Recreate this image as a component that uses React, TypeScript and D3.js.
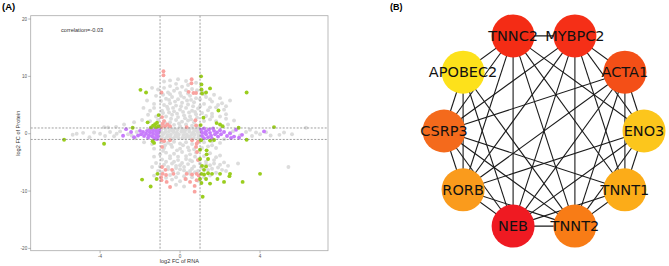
import React from "react";
import * as d3 from "d3";

// ---------- Panel A data (log2 FC RNA, log2 FC Protein) ----------
const grayPts: [number, number][] = [
  // central dense band
  [-0.92,0.82],[-0.72,0.78],[-0.51,0.85],[-0.3,0.8],[-0.12,0.76],[0.1,0.84],[0.31,0.79],[0.49,0.83],[0.7,0.77],[0.9,0.81],
  [-0.95,0.32],[-0.74,0.28],[-0.56,0.35],[-0.34,0.3],[-0.16,0.27],[0.06,0.33],[0.24,0.29],[0.46,0.34],[0.66,0.28],[0.86,0.31],
  [-0.86,-0.18],[-0.64,-0.22],[-0.46,-0.16],[-0.24,-0.21],[-0.06,-0.17],[0.16,-0.23],[0.34,-0.18],[0.56,-0.2],[0.74,-0.16],[0.94,-0.22],
  [-0.9,-0.68],[-0.71,-0.73],[-0.49,-0.66],[-0.31,-0.72],[-0.09,-0.69],[0.11,-0.74],[0.29,-0.67],[0.51,-0.71],[0.69,-0.7],[0.91,-0.66],
  [-0.82,0.05],[-0.4,0.55],[0.2,0.58],[0.62,0.05],[-0.2,-0.45],[0.42,-0.48],[-0.62,-0.45],[0.82,0.55],
  // upper cloud
  [-0.9,1.5],[-0.6,1.4],[-0.3,1.55],[0.0,1.3],[0.3,1.6],[0.6,1.4],[0.9,1.3],
  [-0.8,2.2],[-0.5,2.0],[-0.2,2.4],[0.1,2.1],[0.4,2.3],[0.7,2.0],[1.2,2.2],[1.5,2.5],[1.8,2.2],
  [-0.7,3.0],[-0.4,3.3],[-0.1,2.9],[0.2,3.2],[0.5,3.0],[0.8,3.4],[1.3,3.1],[1.6,3.5],[2.0,3.0],[2.3,3.4],
  [-0.9,4.0],[-0.6,4.3],[-0.3,3.9],[0.0,4.2],[0.3,4.5],[0.6,4.0],[0.9,4.4],[1.4,4.1],[1.8,4.6],[2.2,4.2],
  [-0.8,5.0],[-0.5,5.3],[-0.2,4.9],[0.1,5.4],[0.4,5.1],[0.7,5.5],[1.2,5.2],[1.6,5.6],[2.1,5.3],[2.5,5.8],
  [-0.7,6.1],[-0.4,6.4],[-0.1,6.0],[0.2,6.3],[0.5,6.6],[0.8,6.2],[1.3,6.4],[1.7,6.8],[2.0,6.2],
  [-0.6,7.2],[-0.3,7.5],[0.0,7.1],[0.3,7.6],[0.6,7.8],[1.1,7.4],[1.5,6.0],
  [-0.5,8.3],[-0.2,8.7],[0.1,8.2],[0.4,8.5],[0.8,8.9],[-0.8,8.0],
  [-0.5,9.3],[-0.1,9.5],[0.3,9.2],[-0.8,9.1],
  [-0.75,1.9],[-0.45,2.6],[-0.05,1.8],[0.25,2.7],[0.55,2.5],[0.85,2.8],[-0.85,3.6],[-0.55,3.7],[-0.15,3.5],[0.15,3.8],
  [0.45,3.7],[0.75,3.8],[1.1,3.6],[1.0,4.8],[1.5,4.6],[-0.65,4.7],[-0.35,4.5],[0.05,4.8],[0.35,5.8],[0.65,4.8],
  [-0.95,5.7],[-0.55,5.9],[-0.25,5.6],[0.05,6.6],[0.55,5.9],[1.0,6.0],[1.2,6.9],[-0.85,6.8],[-0.5,6.9],[0.4,7.0],
  [0.85,7.6],[-0.15,7.9],[1.9,5.0],[2.3,4.8],[1.6,3.0],[-1.3,4.5],[-1.6,3.3],[-1.1,2.4],
  [-1.2,3.0],[-1.5,4.0],[-1.83,4.5],[-1.3,5.2],[-1.65,5.8],[-1.2,6.6],[-1.4,8.0],[-1.1,7.7],[-1.9,2.4],[-2.3,2.0],[-1.5,2.2],[-2.8,1.6],[-3.2,1.2],[-3.8,1.15],[-3.6,1.1],
  [2.4,1.6],[2.7,2.3],[2.3,2.6],
  // lower cloud
  [-0.9,-1.5],[-0.6,-1.6],[-0.3,-1.4],[0.0,-1.7],[0.3,-1.5],[0.6,-1.8],[1.2,-1.5],[1.6,-1.3],[2.0,-1.6],[-1.4,-1.8],[-1.8,-1.5],
  [-0.8,-2.5],[-0.4,-2.3],[0.0,-2.6],[0.4,-2.4],[0.7,-2.7],[1.4,-2.2],[1.8,-2.5],[-1.3,-2.6],
  [-1.0,-3.6],[-0.7,-3.3],[-0.3,-3.5],[0.1,-3.2],[0.5,-3.6],[0.8,-3.3],[1.5,-3.4],[2.0,-3.8],[-1.3,-4.0],
  [-0.9,-4.5],[-0.5,-4.3],[-0.1,-4.6],[0.3,-4.4],[0.6,-4.8],[0.9,-4.5],[1.3,-4.9],[1.7,-4.6],[2.2,-5.0],[-1.2,-5.1],
  [-0.8,-5.4],[-0.4,-5.2],[0.0,-5.5],[0.4,-5.3],[0.7,-5.7],[1.5,-5.5],[1.9,-5.9],[2.4,-5.6],[-1.4,-5.8],
  [-0.6,-6.2],[-0.2,-6.0],[0.2,-6.4],[0.6,-6.1],[0.9,-6.5],[1.4,-6.3],[1.8,-6.8],[-1.1,-6.5],
  [-0.5,-7.2],[-0.1,-6.9],[0.2,-7.4],[0.5,-7.0],[1.2,-7.6],[-1.3,-7.3],
  [-0.4,-8.0],[0.0,-8.3],[0.3,-7.9],[0.9,-8.2],
  [-0.2,-8.9],[0.2,-9.2],[2.9,-5.2],[5.42,-5.8],
  [-0.75,-2.0],[-0.45,-1.9],[0.15,-2.0],[0.45,-2.9],[-0.15,-2.9],[1.1,-2.5],[1.6,-2.0],[-0.85,-3.0],[-0.5,-3.9],[-0.1,-4.0],
  [0.3,-3.9],[0.75,-4.0],[1.2,-3.9],[1.8,-4.1],[-0.7,-4.9],[-0.3,-4.9],[0.1,-5.1],[0.5,-4.6],[1.0,-5.2],[1.3,-5.4],
  [1.7,-5.2],[2.0,-5.4],[-1.0,-5.7],[-0.6,-5.8],[-0.2,-5.6],[0.2,-5.8],[0.5,-6.5],[1.1,-6.0],[1.6,-6.1],[2.1,-6.3],
  [-0.9,-6.7],[-0.35,-6.6],[0.0,-6.2],[0.35,-6.8],[0.75,-6.7],[1.5,-7.3],[-0.2,-7.6],[0.6,-7.6],[-0.7,-7.7],[2.3,-6.5],
  // horizontal spread
  [-5.37,-0.17],[-5.17,0.0],[-4.85,0.15],[-4.53,-0.6],[-4.3,0.2],[-4.0,0.0],[-3.75,-0.4],[-3.5,0.3],[-3.17,0.0],[-3.3,-0.45],[-3.0,0.4],
  [-2.42,-0.3],[-2.17,0.3],[-2.6,-0.1],[-2.25,-0.8],
  [2.5,0.0],[2.65,0.45],[3.0,-0.3],[3.3,0.3],[3.6,-0.4],[3.8,0.2],[4.0,-0.1],[4.3,0.25],[4.53,-0.3],[4.97,-0.2],[5.2,0.2],[5.6,-0.1],[6.3,1.05],[3.5,0.7],[2.2,-0.95]
];

const pinkPts: [number, number][] = [
  [-0.83,10.9],[-0.83,10.2],[-0.93,7.2],[0.58,9.5],[0.43,7.3],[0.67,7.1],[0.8,7.1],[0.57,8.8],
  [-0.87,1.75],[-0.75,1.3],[-0.63,1.6],[-0.93,1.15],[-0.5,1.3],[-0.8,2.2],[0.33,1.15],[0.8,1.45],[0.77,2.35],[-0.9,2.9],
  [-0.93,-1.15],[-0.8,-1.3],[-0.5,-1.15],[0.6,-1.15],[0.83,-1.75],[0.8,-2.3],[0.9,-1.4],[-0.9,-2.3],
  [-0.9,-5.8],[-0.73,-6.3],[-0.4,-6.3],[-0.87,-7.0],[-0.7,-7.2],[-0.33,-7.0],[-0.93,-8.1],[-0.67,-8.4],[-0.5,-9.3],[-0.95,-7.6],
  [0.33,-7.0],[0.6,-7.1],[0.83,-7.0],[0.93,-7.3],[0.27,-7.9],[0.5,-8.4],[0.73,-9.1],[0.73,-10.1],[0.83,-8.1],[0.9,-4.6],[0.85,-3.2]
];

const purplePts: [number, number][] = [
  [-1.05,0.6],[-1.1,0.1],[-1.1,-0.5],[-1.2,0.85],[-1.2,0.35],[-1.2,-0.2],[-1.25,-0.75],[-1.35,0.55],[-1.35,0.0],[-1.4,-0.45],
  [-1.5,0.8],[-1.5,0.25],[-1.55,-0.25],[-1.6,-0.7],[-1.65,0.5],[-1.7,0.0],[-1.8,-0.4],[-1.85,0.3],[-1.95,-0.1],[-2.0,0.5],
  [-1.3,-0.9],[-1.45,0.95],[-1.15,-0.95],[-2.1,-0.3],[-2.45,0.3],[-2.7,0.8],[-2.85,-0.35],[-2.3,-0.6],
  [1.05,0.7],[1.1,0.2],[1.1,-0.4],[1.2,0.9],[1.2,-0.8],[1.3,0.45],[1.3,-0.1],[1.4,-0.6],[1.45,0.75],[1.5,0.15],
  [1.55,-0.35],[1.6,-0.85],[1.7,0.5],[1.75,-0.1],[1.85,0.2],[1.9,-0.5],[2.0,0.6],[2.05,-0.1],[1.25,0.1],[1.65,0.9],
  [2.2,0.3],[2.35,-0.4],[2.55,-0.75],[2.7,-0.5],[2.95,-0.7],[3.1,-0.2],[2.5,0.1],[4.2,0.4],[2.8,0.7]
];

const greenPts: [number, number][] = [
  [-5.8,-1.05],[-3.8,-1.75],[-1.98,7.65],[-1.7,7.2],[-2.37,1.05],[-1.62,1.98],[-1.35,1.4],[-1.25,1.65],[-1.15,1.9],[-1.2,1.15],
  [-1.08,1.3],[-1.45,1.1],[-1.07,3.25],[-1.37,-1.3],[-1.3,-1.6],[-1.9,-8.0],[-1.47,-9.2],[-1.13,-7.0],[-1.17,-7.9],
  [1.05,10.0],[1.07,8.6],[1.07,7.7],[1.1,7.0],[1.5,7.9],[1.3,7.2],[3.33,7.2],[1.92,4.05],[1.17,2.8],[1.03,1.5],[1.83,1.85],
  [2.0,1.6],[2.13,1.3],[2.93,1.05],[4.7,1.15],[3.33,-1.05],[1.05,-1.15],[1.5,-1.2],[1.7,-1.1],[1.0,-2.8],[1.33,-2.9],
  [1.33,-3.6],[1.0,-4.4],[1.4,-4.4],[1.1,-5.6],[1.3,-5.7],[1.2,-6.3],[1.07,-7.0],[1.2,-7.1],[1.4,-6.9],[1.6,-7.0],
  [1.0,-7.9],[1.3,-7.9],[1.07,-8.6],[1.5,-8.7],[2.0,-7.0],[2.5,-7.0],[2.47,-7.4],[1.87,-7.9],[2.2,-8.4],[3.13,-8.4],
  [4.0,-7.0],[1.13,-11.0]
];

const xTicks = [-4, 0, 4];
const yTicks = [-20, -10, 0, 10, 20];
const thresholds = [-1, 1];
const correlationLabel = "correlation=-0.03";

// ---------- Panel B data ----------
const genes = ["TNNC2", "MYBPC2", "ACTA1", "ENO3", "TNNT1", "TNNT2", "NEB", "RORB", "CSRP3", "APOBEC2"];
const geneColors = ["#f42c15", "#f52f17", "#f44f17", "#fcc61c", "#fcac18", "#f87c16", "#ef1a22", "#fa9b1c", "#f46a1c", "#fde11b"];
const edges: [string, string][] = [
  ["TNNC2","MYBPC2"],["TNNC2","ENO3"],["TNNC2","TNNT1"],["TNNC2","TNNT2"],["TNNC2","NEB"],["TNNC2","RORB"],["TNNC2","CSRP3"],["TNNC2","APOBEC2"],
  ["MYBPC2","ACTA1"],["MYBPC2","ENO3"],["MYBPC2","TNNT1"],["MYBPC2","TNNT2"],["MYBPC2","NEB"],["MYBPC2","RORB"],["MYBPC2","CSRP3"],
  ["ACTA1","ENO3"],["ACTA1","TNNT1"],["ACTA1","TNNT2"],["ACTA1","NEB"],["ACTA1","RORB"],["ACTA1","CSRP3"],
  ["ENO3","TNNT1"],["ENO3","TNNT2"],["ENO3","NEB"],["ENO3","RORB"],
  ["TNNT1","TNNT2"],["TNNT1","NEB"],["TNNT1","CSRP3"],
  ["TNNT2","NEB"],["TNNT2","RORB"],["TNNT2","CSRP3"],["TNNT2","APOBEC2"],
  ["NEB","RORB"],["NEB","CSRP3"],["NEB","APOBEC2"],
  ["RORB","CSRP3"],["RORB","APOBEC2"],
  ["CSRP3","APOBEC2"]
];

export default function App() {
  const x = d3.scaleLinear().domain([-7.47, 7.4]).range([30.7, 328]);
  const y = d3.scaleLinear().domain([-20.4, 20.58]).range([250.7, 15.7]);
  const [x0, x1] = x.range();
  const [yb, yt] = y.range();
  const r = 1.95;

  const cx = 544, cy = 131, R = 100, nodeR = 21.5;
  const angle = d3.scaleLinear().domain([0, genes.length]).range([-18, 342]);
  const pos = new Map<string, [number, number]>();
  genes.forEach((g, i) => {
    const a = (angle(i) * Math.PI) / 180;
    pos.set(g, [cx + R * Math.sin(a), cy - R * Math.cos(a)]);
  });

  const dots = (pts: [number, number][], fill: string) =>
    pts.map((p, i) => <circle key={fill + i} cx={x(p[0])} cy={y(p[1])} r={r} fill={fill} />);

  return (
    <svg width={669} height={266} style={{ position: "absolute", left: 0, top: 0, background: "#fff" }}
      fontFamily="'Liberation Sans', Arial, sans-serif">
      <rect width={669} height={266} fill="#fff" />
      {/* Panel A */}
      <text x={2} y={10} fontSize={9.5} fontWeight="bold">(A)</text>
      <defs>
        <clipPath id="plotClip"><rect x={x0} y={yt} width={x1 - x0} height={yb - yt} /></clipPath>
      </defs>
      <g clipPath="url(#plotClip)">
        {dots(grayPts, "#dcdcdc")}
        {dots(pinkPts, "#f9a3a0")}
        {dots(purplePts, "#c77cfb")}
        {dots(greenPts, "#9acd1e")}
      </g>
      {thresholds.map((t) => (
        <g key={"th" + t}>
          <line x1={x(t)} x2={x(t)} y1={yt} y2={yb} stroke="#777" strokeWidth={0.7} strokeDasharray="2,1.5" />
          <line x1={x0} x2={x1} y1={y(t)} y2={y(t)} stroke="#777" strokeWidth={0.7} strokeDasharray="2,1.5" />
        </g>
      ))}
      <rect x={x0} y={yt} width={x1 - x0} height={yb - yt} fill="none" stroke="#aaa" strokeWidth={0.8} />
      {yTicks.map((t) => (
        <g key={"yt" + t}>
          <line x1={x0 - 2.5} x2={x0} y1={y(t)} y2={y(t)} stroke="#888" strokeWidth={0.6} />
          <text x={x0 - 3.5} y={y(t) + 1.6} fontSize={4.6} textAnchor="end" fill="#555">{t}</text>
        </g>
      ))}
      {xTicks.map((t) => (
        <g key={"xt" + t}>
          <line x1={x(t)} x2={x(t)} y1={yb} y2={yb + 2.5} stroke="#888" strokeWidth={0.6} />
          <text x={x(t)} y={yb + 7.5} fontSize={4.6} textAnchor="middle" fill="#555">{t}</text>
        </g>
      ))}
      <text x={(x0 + x1) / 2} y={263} fontSize={5.6} textAnchor="middle" fill="#333">log2 FC of RNA</text>
      <text transform={`translate(19.5,${(yt + yb) / 2}) rotate(-90)`} fontSize={5.6} textAnchor="middle" fill="#333">log2 FC of Protein</text>
      <text x={61} y={31.5} fontSize={5.6} fill="#333">{correlationLabel}</text>

      {/* Panel B */}
      <text x={390} y={10} fontSize={9} fontWeight="bold">(B)</text>
      {edges.map(([a, b], i) => {
        const pa = pos.get(a)!, pb = pos.get(b)!;
        return <line key={"e" + i} x1={pa[0]} y1={pa[1]} x2={pb[0]} y2={pb[1]} stroke="#1a1a1a" strokeWidth={1.1} />;
      })}
      {genes.map((g, i) => {
        const p = pos.get(g)!;
        return <circle key={"n" + g} cx={p[0]} cy={p[1]} r={nodeR} fill={geneColors[i]} />;
      })}
      {genes.map((g) => {
        const p = pos.get(g)!;
        return (
          <text key={"l" + g} x={p[0]} y={p[1] + 5.2} fontSize={14.5} textAnchor="middle" fill="#111"
            fontFamily="'DejaVu Sans', sans-serif">{g}</text>
        );
      })}
    </svg>
  );
}
